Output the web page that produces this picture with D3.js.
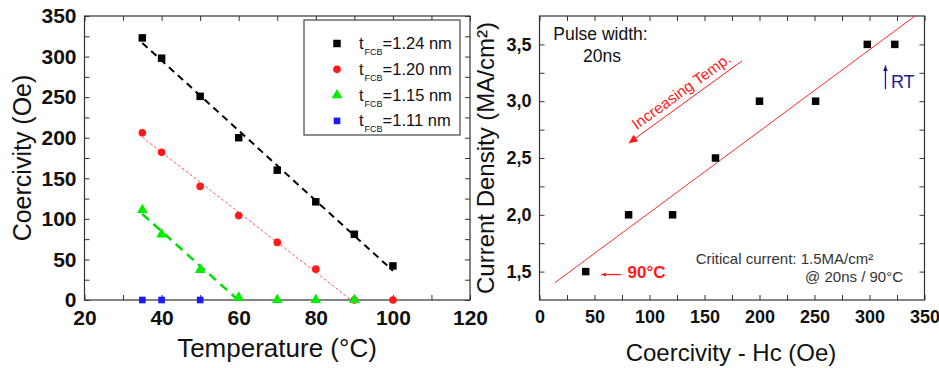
<!DOCTYPE html>
<html>
<head>
<meta charset="utf-8">
<script src="https://cdn.jsdelivr.net/npm/d3@7"></script>
<style>
  html, body { margin: 0; padding: 0; background: #fff; }
  svg { display: block; font-family: "Liberation Sans", Arial, sans-serif; }
</style>
</head>
<body>
<svg id="chart" width="939" height="368"></svg>
<script>
// ---- Left panel: coercivity vs temperature for four FCB thicknesses ----
const temperatures = [35, 40, 50, 60, 70, 80, 90, 100];
const hc124 = [323, 298, 251, 200, 160, 121, 81, 42];
const hc120 = [206, 182, 140, 104, 71, 38, 0, 0];
const hc115 = [111, 81, 37, 3, 0, 0, 0];
const temps115 = [35, 40, 50, 60, 70, 80, 90];
const hc111 = [0, 0, 0];
const temps111 = [35, 40, 50];
const seriesLabels = ["=1.24 nm", "=1.20 nm", "=1.15 nm", "=1.11 nm"];

const leftXTicks = [20, 40, 60, 80, 100, 120];
const leftYTicks = [0, 50, 100, 150, 200, 250, 300, 350];

// ---- Right panel: switching current density vs coercivity ----
const coercivityHc = [42, 81, 121, 160, 200, 251, 298, 323];
const currentDensity = [1.5, 2.0, 2.0, 2.5, 3.0, 3.0, 3.5, 3.5];
const rightXTicks = [0, 50, 100, 150, 200, 250, 300, 350];
const rightYTicks = [1.5, 2.0, 2.5, 3.0, 3.5];

const svg = d3.select("#chart");
const frameColor = "#333";

// least-squares straight line through the points with nonzero y
function linFit(xs, ys) {
  const px = [], py = [];
  xs.forEach((x, i) => { if (ys[i] > 0) { px.push(x); py.push(ys[i]); } });
  const mx = d3.mean(px), my = d3.mean(py);
  let sxy = 0, sxx = 0;
  px.forEach((x, i) => { sxy += (x - mx) * (py[i] - my); sxx += (x - mx) * (x - mx); });
  const m = sxy / sxx;
  return { m, b: my - m * mx, xmin: d3.min(px), xmax: d3.max(px) };
}

function drawFrame(g, x, y, xTicks, yTicks, xMinor, yMinor, fmtY, fontX, fontY) {
  const [x0, x1] = x.range(), [y0, y1] = y.range();
  const w = x1 - x0, h = y0 - y1;
  const tick = 5;
  // bottom (labelled) + top, left (labelled) + right; all ticks point inward
  const mk = (axis, tf, vals, size, lab) => {
    const a = g.append("g").attr("transform", tf)
      .call(axis.tickValues(vals).tickSizeInner(size).tickSizeOuter(0)
        .tickFormat(lab ? null : () => ""));
    a.select(".domain").remove();
    a.selectAll(".tick line").attr("stroke", frameColor).attr("stroke-width", 1);
    return a;
  };
  const bx = mk(d3.axisBottom(x), `translate(0,${y0})`, xTicks, -tick, true);
  bx.selectAll("text").attr("font-size", fontX).attr("font-weight", "bold")
    .attr("fill", "#111").attr("y", 10).attr("dy", "0.72em");
  mk(d3.axisBottom(x), `translate(0,${y0})`, xMinor, -tick, false);
  mk(d3.axisTop(x), `translate(0,${y1})`, xTicks.concat(xMinor), -tick, false);
  const ly = mk(d3.axisLeft(y), `translate(${x0},0)`, yTicks, -tick, true);
  ly.selectAll("text").attr("font-size", fontY).attr("font-weight", "bold")
    .attr("fill", "#111").attr("x", -8).text(fmtY);
  mk(d3.axisLeft(y), `translate(${x0},0)`, yMinor, -tick, false);
  mk(d3.axisRight(y), `translate(${x1},0)`, yTicks.concat(yMinor), -tick, false);
  g.append("rect").attr("x", x0).attr("y", y1).attr("width", w).attr("height", h)
    .attr("fill", "none").attr("stroke", frameColor).attr("stroke-width", 1.2);
}

// ================= LEFT PANEL =================
const xL = d3.scaleLinear().domain([20, 120]).range([84.5, 470]);
const yL = d3.scaleLinear().domain([0, 350]).range([300, 16]);
const gL = svg.append("g");

drawFrame(gL, xL, yL, leftXTicks, leftYTicks,
  [30, 50, 70, 90, 110], [25, 75, 125, 175, 225, 275, 325],
  d => d3.format("d")(d), 21, 21);

const fitStyles = [
  { color: "#000", width: 2, dash: "7,5" },
  { color: "#ff5a5a", width: 1, dash: "3,2" },
  { color: "#00e000", width: 2.5, dash: "9,6" }
];
const fitSets = [[temperatures, hc124], [temperatures, hc120], [temps115, hc115]];
fitSets.forEach(([xs, ys], i) => {
  const f = linFit(xs, ys);
  const xEnd = Math.min(100, -f.b / f.m);
  const st = fitStyles[i];
  gL.append("line")
    .attr("x1", xL(f.xmin)).attr("y1", yL(f.m * f.xmin + f.b))
    .attr("x2", xL(xEnd)).attr("y2", yL(f.m * xEnd + f.b))
    .attr("stroke", st.color).attr("stroke-width", st.width)
    .attr("stroke-dasharray", st.dash);
});

const markerDefs = [
  { type: d3.symbolSquare, size: 56, color: "#000" },
  { type: d3.symbolCircle, size: 46, color: "#ff1a1a" },
  { type: d3.symbolTriangle, size: 50, color: "#00ee00" },
  { type: d3.symbolSquare, size: 44, color: "#1a1aff" }
];
const pointSets = [[temperatures, hc124], [temperatures, hc120], [temps115, hc115], [temps111, hc111]];
pointSets.forEach(([xs, ys], i) => {
  const md = markerDefs[i];
  gL.append("g").selectAll("path").data(xs.map((x, k) => [x, ys[k]])).join("path")
    .attr("transform", d => `translate(${xL(d[0])},${yL(d[1])})`)
    .attr("d", d3.symbol().type(md.type).size(md.size))
    .attr("fill", md.color);
});

// legend
const leg = gL.append("g").attr("transform", "translate(304,20)");
leg.append("rect").attr("width", 156).attr("height", 115)
  .attr("fill", "#fff").attr("stroke", "#444").attr("stroke-width", 1.2);
seriesLabels.forEach((lab, i) => {
  const yy = 23.5 + i * 25.8;
  const md = markerDefs[i];
  leg.append("path").attr("transform", `translate(33,${yy})`)
    .attr("d", d3.symbol().type(md.type).size(md.size)).attr("fill", md.color);
  const t = leg.append("text").attr("x", 55).attr("y", yy + 5.5)
    .attr("font-size", 16.5).attr("fill", "#111");
  t.append("tspan").text("t");
  t.append("tspan").attr("font-size", 9).attr("dy", 6).attr("dx", 1).text("FCB");
  t.append("tspan").attr("dy", -6).text(lab);
});

// axis titles
gL.append("text").attr("x", 277).attr("y", 357).attr("text-anchor", "middle")
  .attr("font-size", 26).attr("fill", "#111").text("Temperature (°C)");
gL.append("text").attr("transform", "translate(31,158) rotate(-90)")
  .attr("text-anchor", "middle").attr("font-size", 25).attr("fill", "#111")
  .text("Coercivity (Oe)");

// ================= RIGHT PANEL =================
const xR = d3.scaleLinear().domain([0, 350]).range([539.5, 924.5]);
const yR = d3.scaleLinear().domain([1.25, 3.75]).range([300, 16]);
const gR = svg.append("g");

drawFrame(gR, xR, yR, rightXTicks, rightYTicks,
  [25, 75, 125, 175, 225, 275, 325], [1.75, 2.25, 2.75, 3.25],
  d => d3.format(".1f")(d).replace(".", ","), 18, 18);

// linear trend of current density vs coercivity, clipped to the frame
gR.append("clipPath").attr("id", "clipR").append("rect")
  .attr("x", 539.5).attr("y", 16).attr("width", 385).attr("height", 284);
const fr = linFit(coercivityHc, currentDensity);
const trendX = [14, 360];
gR.append("line").attr("clip-path", "url(#clipR)")
  .attr("x1", xR(trendX[0])).attr("y1", yR(fr.m * trendX[0] + fr.b))
  .attr("x2", xR(trendX[1])).attr("y2", yR(fr.m * trendX[1] + fr.b))
  .attr("stroke", "#ff2a2a").attr("stroke-width", 1);

gR.append("g").selectAll("path").data(coercivityHc.map((x, k) => [x, currentDensity[k]])).join("path")
  .attr("transform", d => `translate(${xR(d[0])},${yR(d[1])})`)
  .attr("d", d3.symbol().type(d3.symbolSquare).size(56))
  .attr("fill", "#000");

// arrowheads
const defs = svg.append("defs");
function arrowHead(id, color, w, h) {
  defs.append("marker").attr("id", id).attr("viewBox", `0 0 ${w} ${h}`)
    .attr("refX", w).attr("refY", h / 2).attr("markerUnits", "userSpaceOnUse")
    .attr("markerWidth", w).attr("markerHeight", h).attr("orient", "auto")
    .append("path").attr("d", `M0,0L${w},${h / 2}L0,${h}Z`).attr("fill", color);
}
arrowHead("arrRed", "#ff1a1a", 9, 8);
arrowHead("arrRedSmall", "#ff1a1a", 5, 4);
arrowHead("arrBlue", "#1c1c8c", 6, 5);

// annotations
const red = "#ff1a1a", navy = "#1c1c8c";
gR.append("text").attr("x", xR(12.5)).attr("y", yR(3.54))
  .attr("font-size", 17.5).attr("fill", "#111").text("Pulse width:");
gR.append("text").attr("x", xR(39.5)).attr("y", yR(3.345))
  .attr("font-size", 17.5).attr("fill", "#111").text("20ns");

// "Increasing Temp." arrow
const itFrom = [184, 3.354], itTo = [81, 2.63];
gR.append("line")
  .attr("x1", xR(itFrom[0])).attr("y1", yR(itFrom[1]))
  .attr("x2", xR(itTo[0])).attr("y2", yR(itTo[1]))
  .attr("stroke", red).attr("stroke-width", 1).attr("marker-end", "url(#arrRed)");
const ang = Math.atan2(yR(itFrom[1]) - yR(itTo[1]), xR(itFrom[0]) - xR(itTo[0])) * 180 / Math.PI;
gR.append("text")
  .attr("transform", `translate(${xR(88.5)},${yR(2.745)}) rotate(${ang})`)
  .attr("font-size", 15.5).attr("fill", red).text("Increasing Temp.");

// RT marker
gR.append("line").attr("x1", xR(314.5)).attr("y1", yR(3.105))
  .attr("x2", xR(314.5)).attr("y2", yR(3.315))
  .attr("stroke", navy).attr("stroke-width", 1.3).attr("marker-end", "url(#arrBlue)");
gR.append("text").attr("x", xR(319.5)).attr("y", yR(3.115))
  .attr("font-size", 18).attr("fill", navy).text("RT");

// 90 °C marker
gR.append("line").attr("x1", xR(74)).attr("y1", yR(1.474))
  .attr("x2", xR(56)).attr("y2", yR(1.474))
  .attr("stroke", red).attr("stroke-width", 1.3).attr("marker-end", "url(#arrRedSmall)");
gR.append("text").attr("x", xR(80)).attr("y", yR(1.448))
  .attr("font-size", 17).attr("font-weight", "bold").attr("fill", red).text("90°C");

gR.append("text").attr("x", xR(142)).attr("y", yR(1.563))
  .attr("font-size", 15).attr("fill", "#333").text("Critical current: 1.5MA/cm²");
gR.append("text").attr("x", xR(330.5)).attr("y", yR(1.405)).attr("text-anchor", "end")
  .attr("font-size", 15).attr("fill", "#333").text("@ 20ns / 90°C");

// axis titles
gR.append("text").attr("x", 731).attr("y", 361).attr("text-anchor", "middle")
  .attr("font-size", 24).attr("fill", "#111").text("Coercivity - Hc (Oe)");
gR.append("text").attr("transform", "translate(494,158) rotate(-90)")
  .attr("text-anchor", "middle").attr("font-size", 24).attr("fill", "#111")
  .text("Current Density (MA/cm²)");
</script>
</body>
</html>
